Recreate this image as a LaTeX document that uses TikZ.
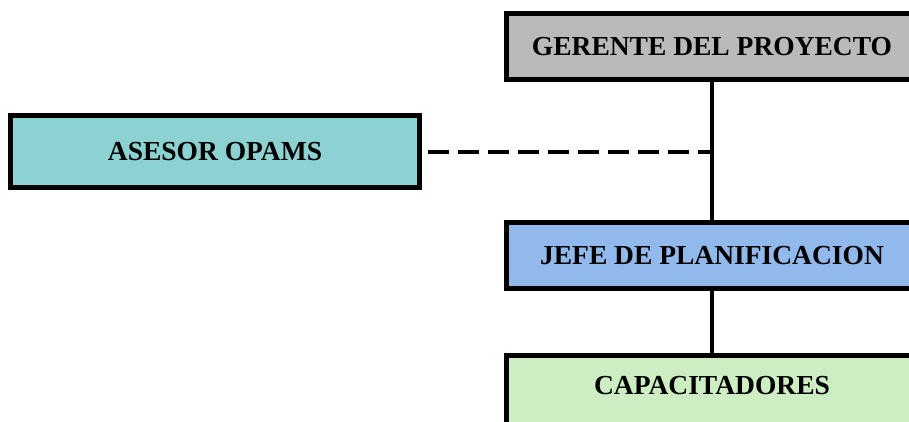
\documentclass[tikz,border=0pt]{standalone}
\usepackage{fontspec}
\setmainfont{Liberation Serif}
\definecolor{gergray}{RGB}{186,186,186}
\definecolor{asecyan}{RGB}{140,210,210}
\definecolor{jefblue}{RGB}{145,185,235}
\definecolor{capgreen}{RGB}{205,238,195}
\begin{document}
\begin{tikzpicture}[x=1pt,y=-1pt,
  orgbox/.style={draw=black, line width=5pt, rectangle, inner sep=0pt,
    font=\fontsize{27.5}{32}\selectfont\bfseries, text=black},
  link/.style={line width=4pt, draw=black},
  dashlink/.style={line width=4.5pt, draw=black, dash pattern=on 21pt off 9pt}]
\useasboundingbox (0,0) rectangle (909,421);
\clip (0,0) rectangle (909,421);
\fill[white] (0,0) rectangle (909,421);
\node[orgbox, fill=gergray, minimum width=411pt, minimum height=66pt] (ger) at (712,46.5) {GERENTE DEL PROYECTO};
\node[orgbox, fill=asecyan, minimum width=409pt, minimum height=72pt] (ase) at (215,151.5) {ASESOR OPAMS};
\node[orgbox, fill=jefblue, minimum width=411pt, minimum height=66pt] (jef) at (712,255.5) {JEFE DE PLANIFICACION};
\node[orgbox, fill=capgreen, minimum width=411pt, minimum height=74pt] (cap) at (712,392.5) {};
\node[font=\fontsize{27.5}{32}\selectfont\bfseries] (captext) at (712,386) {CAPACITADORES};
\coordinate (j1) at (712,152);
\draw[link] (ger.south) -- (jef.north);
\draw[link] (jef.south) -- (cap.north);
\draw[dashlink] ([xshift=6pt]ase.east |- j1) -- ([xshift=2pt]j1);
\end{tikzpicture}
\end{document}
